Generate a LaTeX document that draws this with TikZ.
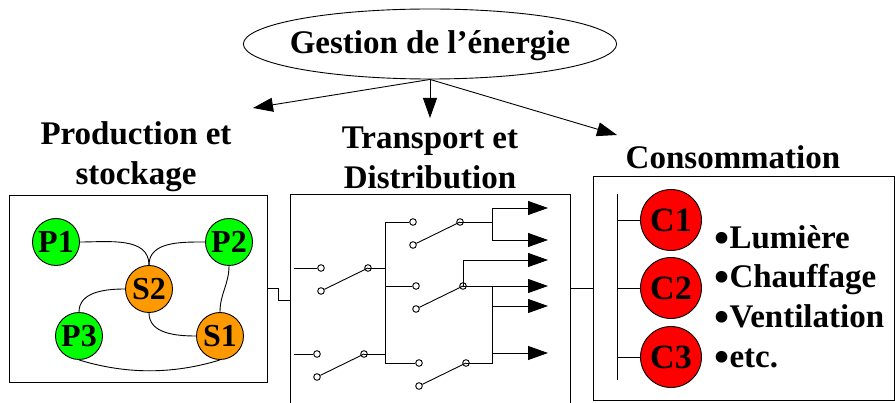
\documentclass[tikz,border=0pt]{standalone}
\usepackage{fontspec}
\setmainfont{Liberation Serif}
\usetikzlibrary{arrows.meta,shapes.geometric}
\newcommand{\bul}{\raisebox{-3.5pt}{\fontsize{43}{43}\selectfont •}}
\definecolor{storage}{RGB}{255,153,0}

\begin{document}
\begin{tikzpicture}[
	x=1pt,y=-1pt
	,every node/.append style={font=\fontsize{33}{40}\selectfont\bfseries}
	,every path/.append style={line width=.9pt}
	,tip/.style={-{Triangle[length=20pt,width=14pt]}}
	,box/.style={draw, rectangle, inner sep=0pt}
	,title/.style={align=center, inner sep=0pt}
	,item/.style={anchor=base west, inner sep=0pt}
	,pn/.style={circle, draw, fill=green, inner sep=0pt, minimum size=47pt, font=\fontsize{32}{32}\selectfont\bfseries}
	,sn/.style={pn, fill=storage}
	,cn/.style={pn, fill=red, minimum size=61pt, font=\fontsize{34}{34}\selectfont\bfseries}
	,contact/.style={circle, draw, inner sep=0pt, minimum size=6.6pt}
]
	\useasboundingbox (0,0) rectangle (895,403);

	% top of the picture
	\node [ellipse, draw, minimum height=70pt, inner xsep=-8.25pt, inner ysep=0pt, text height=27pt, text depth=7pt] (G) at (430,44) {Gestion de l'énergie};
	\coordinate (Gl) at (253,108);
	\coordinate (Gm) at (430,118);
	\coordinate (Gr) at (617,135);
	\draw [tip] (G.south) -- (Gl);
	\draw [tip] (G.south) -- (Gm);
	\draw [tip] (G.south) -- (Gr);

	\node [title] (T1) at (136,156.5) {Production et\\stockage};
	\node [title] (T2) at (430,157.5) {Transport et\\Distribution};
	\node [title] (T3) at (733,157) {Consommation};

	% production
	\node [box, minimum width=258pt, minimum height=187pt] (PB) at (138,288.5) {};
	\node [pn] (P1) at (56,242) {P1};
	\node [pn] (P2) at (229,242) {P2};
	\node [pn] (P3) at (79,336) {P3};
	\node [sn] (S2) at (149,289) {S2};
	\node [sn] (S1) at (220,336) {S1};
	\draw (P1) to [out=0,in=90] (S2);
	\draw (P2) to [out=180,in=90] (S2);
	\draw (S2) to [out=180,in=90] (P3);
	\draw (S2) to [out=270,in=180] (S1);
	\draw (P2) to [out=270,in=90] (S1);
	\draw (P3.south) to [out=-17,in=197,looseness=.9] (S1.south);

	% transport
	\coordinate (TBl) at (290,403);
	\coordinate (TBr) at (570,403);
	\coordinate (TBin) at (290,300);
	\coordinate (TBout) at (570,288);
	\draw (TBl) |- (570,194) -- (TBr);
	\draw (PB.east |- 0,288) -| (278,300) -- (TBin);

	% one switch: input contact, low contact, pivot
	\foreach \name/\xa/\ya in {A/321/268,B/317/354,C/413/222,D/416/286,E/419/363} {
		\node [contact] (\name a) at (\xa,\ya) {};
		\node [contact] (\name b) at (\xa,\ya+23) {};
		\node [contact] (\name c) at (\xa+47,\ya) {};
		\draw (\name b) -- (\name c.center);
	}
	\coordinate (Ain) at (294,268);
	\coordinate (Bin) at (294,354);
	\coordinate (Bt) at (385,222);
	\coordinate (Bb) at (385,363);
	\coordinate (O1) at (492,222);
	\coordinate (O2) at (492,286);
	\coordinate (O3) at (492,363);
	\draw (Ain) -- (Aa);
	\draw (Bin) -- (Ba);
	\draw (Ac.center) -- (Ac -| Bt);
	\draw (Bc.center) -- (Bc -| Bt);
	\draw (Ca) -| (Bt) -- (Bb) -- (Ea);
	\draw (Da) -- (Da -| Bt);
	\draw (Cc.center) -- (O1);
	\draw (Dc.center) -- (O2);
	\draw (Ec.center) -- (O3) -- (O2);
	\draw (O1) -- (492,208);
	\draw (O1) -- (492,240);
	\draw [tip] (492,208) -- (548,208);
	\draw [tip] (492,240) -- (548,240);
	\draw [tip] (Dc.center) |- (548,260);
	\draw [tip] (O2) -- (548,286);
	\draw [tip] (492,306) -- (548,306);
	\draw [tip] (492,353) -- (548,353);

	% consommation
	\node [box, minimum width=301pt, minimum height=224pt] (CB) at (743.5,288) {};
	\draw (TBout) -- (CB.west);
	\coordinate (Ct) at (617,194);
	\coordinate (Cb) at (617,380);
	\draw (Ct) -- (Cb);
	\node [cn] (C1) at (671,220) {C1};
	\node [cn] (C2) at (671,288) {C2};
	\node [cn] (C3) at (671,357) {C3};
	\foreach \n in {C1,C2,C3}
		\draw (\n) -- (\n -| Ct);
	\node [item] (L1) at (714,249) {\bul Lumière};
	\node [item] (L2) at (714,288) {\bul Chauffage};
	\node [item] (L3) at (714,328) {\bul Ventilation};
	\node [item] (L4) at (714,368) {\bul etc.};
\end{tikzpicture}
\end{document}
